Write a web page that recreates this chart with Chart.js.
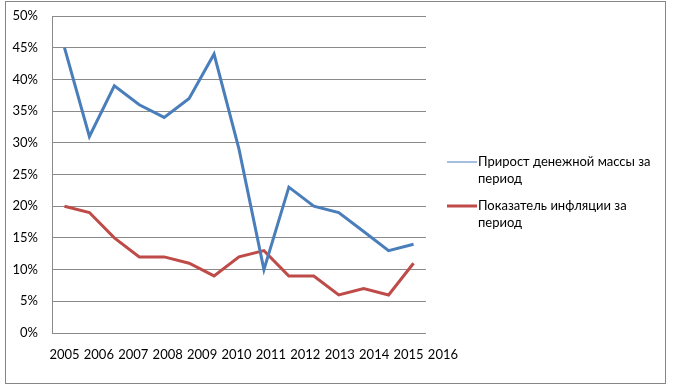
<!DOCTYPE html>
<html>
<head>
<meta charset="utf-8">
<script src="https://cdn.jsdelivr.net/npm/chart.js@4/dist/chart.umd.min.js"></script>
<style>
  html, body { margin: 0; padding: 0; background: #fff; }
  #wrap { width: 673px; height: 391px; }
</style>
</head>
<body>
<div id="wrap"><canvas id="myChart" width="673" height="391"></canvas></div>
<script>
// year labels under the axis (Excel placed them at its own spacing)
var years = ['2005', '2006', '2007', '2008', '2009', '2010', '2011', '2012', '2013', '2014', '2015', '2016'];

// money supply growth, % (15 points)
var moneyGrowth = [45, 31, 39, 36, 34, 37, 44, 29, 10, 23, 20, 19, 16, 13, 14];
// inflation, % (15 points)
var inflation = [20, 19, 15, 12, 12, 11, 9, 12, 13, 9, 9, 6, 7, 6, 11];

var seriesNames = ['Прирост денежной массы за период', 'Показатель инфляции за период'];

var yearStep = 1.38; // category units between two year labels
var gridColor = '#8a8a8a';

function toPoints(arr) {
    return arr.map(function (v, i) { return { x: i, y: v }; });
}

Chart.defaults.font.family = 'Lato, "Liberation Sans", sans-serif';
Chart.defaults.font.size = 13;
Chart.defaults.color = '#000';

// outer frame of the chart object
var framePlugin = {
    id: 'frame',
    beforeDraw: function (chart) {
        var c = chart.ctx;
        c.save();
        c.fillStyle = '#fff';
        c.fillRect(0, 0, chart.width, chart.height);
        c.strokeStyle = '#868686';
        c.lineWidth = 1;
        c.strokeRect(5.5, 1.5, 660, 382);
        c.restore();
    }
};

// Excel-like legend on the right, with wrapped text
var legendPlugin = {
    id: 'sideLegend',
    afterDraw: function (chart) {
        var c = chart.ctx;
        var x0 = 447, lineLen = 30, maxW = 180, lh = 17;
        var y = 162;
        var sampleWidths = [1, 3];
        c.save();
        c.font = '13px ' + Chart.defaults.font.family;
        c.textBaseline = 'middle';
        c.fillStyle = '#000';
        chart.data.datasets.forEach(function (ds, k) {
            c.strokeStyle = ds.borderColor;
            c.lineWidth = sampleWidths[k];
            c.beginPath();
            c.moveTo(x0, y);
            c.lineTo(x0 + lineLen, y);
            c.stroke();
            // wrap words
            var words = ds.label.split(' ');
            var lines = [], cur = '';
            words.forEach(function (w) {
                var t = cur ? cur + ' ' + w : w;
                if (c.measureText(t).width > maxW && cur) {
                    lines.push(cur);
                    cur = w;
                } else {
                    cur = t;
                }
            });
            lines.push(cur);
            lines.forEach(function (ln, j) {
                c.fillText(ln, x0 + lineLen + 1, y + j * lh);
            });
            y += lines.length * lh + 10;
        });
        c.restore();
    }
};

var ctx = document.getElementById('myChart').getContext('2d');

var chart = new Chart(ctx, {
    type: 'line',
    data: {
        datasets: [{
            label: seriesNames[0],
            data: toPoints(moneyGrowth),
            borderColor: '#4a7ebb',
            borderWidth: 3,
            pointRadius: 0,
            tension: 0,
            fill: false
        }, {
            label: seriesNames[1],
            data: toPoints(inflation),
            borderColor: '#be4b48',
            borderWidth: 3,
            pointRadius: 0,
            tension: 0,
            fill: false
        }]
    },
    options: {
        responsive: false,
        animation: false,
        events: [],
        layout: {
            padding: { left: 0, top: 16, right: 247, bottom: 0 }
        },
        plugins: {
            legend: { display: false },
            tooltip: { enabled: false }
        },
        scales: {
            x: {
                type: 'linear',
                min: -0.5,
                max: moneyGrowth.length - 0.5,
                grid: { display: false, drawTicks: false },
                border: { display: false },
                afterBuildTicks: function (scale) {
                    scale.ticks = years.map(function (y, i) { return { value: i * yearStep }; });
                },
                afterFit: function (scale) {
                    scale.height = 58;
                    scale.paddingLeft = 0;
                    scale.paddingRight = 0;
                },
                ticks: {
                    autoSkip: false,
                    maxRotation: 0,
                    padding: 14,
                    callback: function (v, i) { return years[i]; }
                }
            },
            y: {
                min: 0,
                max: 50,
                grid: { color: gridColor, drawTicks: false },
                border: { display: true, color: gridColor },
                afterFit: function (scale) {
                    scale.width = 52;
                    scale.paddingTop = 0;
                    scale.paddingBottom = 0;
                },
                ticks: {
                    stepSize: 5,
                    padding: 14,
                    callback: function (v) { return v + '%'; }
                }
            }
        }
    },
    plugins: [framePlugin, legendPlugin]
});
</script>
</body>
</html>
